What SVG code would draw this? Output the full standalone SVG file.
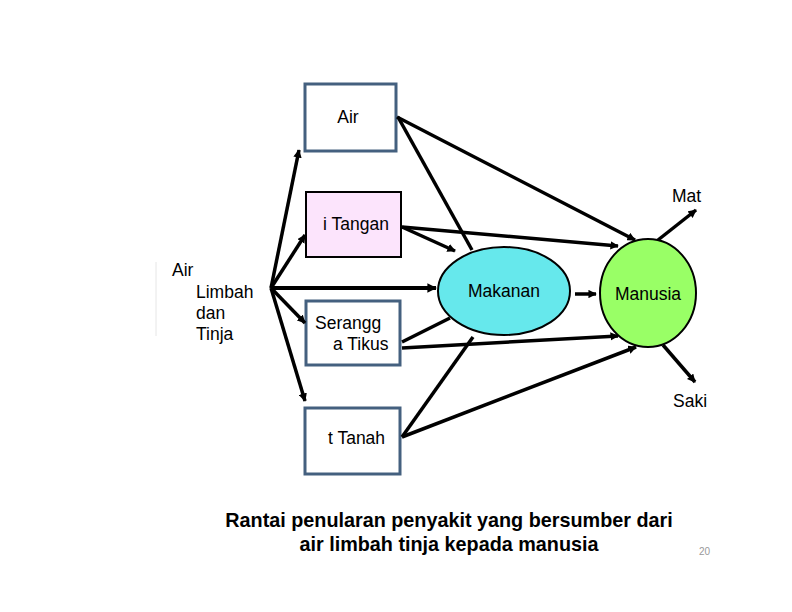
<svg xmlns="http://www.w3.org/2000/svg" width="792" height="612" viewBox="0 0 792 612">
<defs>
<marker id="ah" viewBox="0 0 10 10" refX="9" refY="5" markerWidth="2.4" markerHeight="2.4" orient="auto" markerUnits="strokeWidth"><path d="M0,0 L10,5 L0,10 z" fill="#000"/></marker>
<style>
text{font-family:"Liberation Sans",Arial,sans-serif;fill:#000}
.t{font-size:17.5px}
.box{fill:#fff;stroke:#44607f;stroke-width:3}
.c line{stroke:#000;stroke-width:3.5;fill:none}
.a{marker-end:url(#ah)}
</style>
</defs>
<rect width="792" height="612" fill="#fff"/>
<line x1="156" y1="262" x2="156" y2="336" stroke="#e6e6e6" stroke-width="1"/>
<g id="src"><text class="t" x="172" y="276">Air</text><text class="t" x="196" y="298">Limbah</text><text class="t" x="196" y="319">dan</text><text class="t" x="196" y="340">Tinja</text></g>
<g id="air"><rect class="box" x="305" y="84" width="91" height="67"/><text class="t" x="348" y="123" text-anchor="middle">Air</text></g>
<g id="tangan"><rect x="306" y="192" width="95" height="65" fill="#fce4fc" stroke="#000" stroke-width="2"/><text class="t" x="356" y="230" text-anchor="middle">i Tangan</text></g>
<g id="serangga"><rect class="box" x="306" y="301" width="94" height="64"/><text class="t" x="315" y="329">Serangg</text><text class="t" x="333" y="350">a Tikus</text></g>
<g id="tanah"><rect class="box" x="305" y="408" width="95" height="66"/><text class="t" x="328" y="444">t Tanah</text></g>
<g id="makanan"><ellipse cx="504" cy="291" rx="66" ry="44" fill="#66e8ec" stroke="#000" stroke-width="2"/><text class="t" x="504" y="297" text-anchor="middle">Makanan</text></g>
<g id="manusia"><ellipse cx="648" cy="293" rx="48" ry="54" fill="#99ff66" stroke="#000" stroke-width="2"/><text class="t" x="648" y="300" text-anchor="middle">Manusia</text></g>
<g id="mat"><text class="t" x="672" y="202">Mat</text></g>
<g id="saki"><text class="t" x="673" y="407">Saki</text></g>
<g id="connectors" class="c">
<line class="a" x1="271" y1="288" x2="299" y2="150"/>
<line class="a" x1="271" y1="288" x2="305" y2="235"/>
<line class="a" x1="271" y1="288" x2="436" y2="288" style="stroke-width:4"/>
<line class="a" x1="271" y1="288" x2="305" y2="323"/>
<line class="a" x1="271" y1="288" x2="305" y2="401"/>
<line class="a" x1="397" y1="117" x2="635" y2="240"/>
<line x1="398" y1="117" x2="472" y2="250"/>
<line class="a" x1="402" y1="227" x2="455" y2="251"/>
<line class="a" x1="402" y1="227" x2="618" y2="246"/>
<line class="a" x1="575" y1="294" x2="596" y2="294"/>
<line class="a" x1="658" y1="240" x2="696" y2="210"/>
<line class="a" x1="663" y1="345" x2="695" y2="382"/>
<line x1="402" y1="342" x2="450" y2="318"/>
<line class="a" x1="402" y1="348" x2="618" y2="336"/>
<line x1="402" y1="437" x2="473" y2="337"/>
<line class="a" x1="402" y1="437" x2="636" y2="347"/>
</g>
<g id="title"><text x="449" y="527" text-anchor="middle" style="font-size:19.8px;font-weight:bold">Rantai penularan penyakit yang bersumber dari</text><text x="449" y="551" text-anchor="middle" style="font-size:19.8px;font-weight:bold">air limbah tinja kepada manusia</text></g>
<text x="699" y="555" style="font-size:10px;fill:#999">20</text>
</svg>
